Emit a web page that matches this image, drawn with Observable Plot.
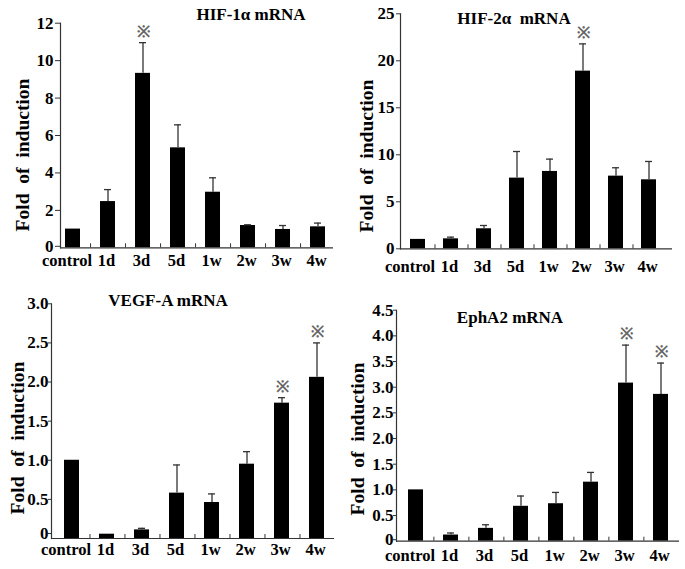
<!DOCTYPE html>
<html><head><meta charset="utf-8">
<script src="https://cdn.jsdelivr.net/npm/d3@7"></script>
<script src="https://cdn.jsdelivr.net/npm/@observablehq/plot@0.6"></script>
<style>
body{margin:0;background:#fff;}
#wrap{position:relative;width:685px;height:569px;overflow:hidden;font-family:"Liberation Serif","Times New Roman",serif;font-weight:bold;color:#000;background:#fff;}
.panel{position:absolute;}
.panel text{font-family:"Liberation Serif","Times New Roman",serif !important;font-weight:bold;}
.panel text.star{font-family:"Noto Sans CJK SC",sans-serif !important;font-weight:normal;}
.title{position:absolute;font-size:17px;white-space:pre;transform:translate(-50%,-50%);line-height:1;}
.ylab{position:absolute;font-size:19.5px;white-space:pre;transform:translate(-50%,-50%) rotate(-90deg);line-height:1;}
</style></head><body><div id="wrap"></div>
<script>
const categories = ["control","1d","3d","5d","1w","2w","3w","4w"];

const hif1Values = [1.0, 2.47, 9.32, 5.34, 2.97, 1.19, 0.98, 1.12];
const hif1SD     = [0, 0.64, 1.64, 1.23, 0.77, 0.04, 0.21, 0.20];
const hif1Sig    = ["3d"];
const hif1Ticks  = [0, 2, 4, 6, 8, 10, 12];

const hif2Values = [1.0, 1.06, 2.13, 7.52, 8.23, 18.9, 7.73, 7.34];
const hif2SD     = [0, 0.18, 0.35, 2.83, 1.31, 2.9, 0.89, 1.95];
const hif2Sig    = ["2w"];
const hif2Ticks  = [0, 5, 10, 15, 20, 25];

const vegfValues = [1.0, 0.055, 0.11, 0.58, 0.46, 0.95, 1.73, 2.06];
const vegfSD     = [0, 0, 0.02, 0.36, 0.11, 0.16, 0.07, 0.44];
const vegfSig    = ["3w","4w"];
const vegfTicks  = [0, 0.5, 1.0, 1.5, 2.0, 2.5, 3.0];

const ephValues  = [1.0, 0.12, 0.25, 0.68, 0.73, 1.15, 3.08, 2.86];
const ephSD      = [0, 0.04, 0.07, 0.20, 0.22, 0.19, 0.74, 0.61];
const ephSig     = ["3w","4w"];
const ephTicks   = [0, 0.5, 1.0, 1.5, 2.0, 2.5, 3.0, 3.5, 4.0, 4.5];

const titles = ["HIF-1\u03b1 mRNA", "HIF-2\u03b1  mRNA", "VEGF-A mRNA", "EphA2 mRNA"];
const yLabel = "Fold  of  induction";

const wrap = document.getElementById("wrap");
const FONT = "Liberation Serif";

function panel(cfg) {
  const data = categories.map((c, i) => ({cat: c, value: cfg.values[i], sd: cfg.sd[i], top: cfg.values[i] + cfg.sd[i], sig: cfg.sig.includes(c)}));
  const withErr = data.filter(d => d.sd > 0);
  const xs = d3.scaleBand().domain(categories).range([cfg.ml, cfg.width - cfg.mr])
    .paddingInner(cfg.pi).paddingOuter(cfg.po).align(cfg.align);
  const step = xs.step();
  const labelStyle = {tickSize: 0, tickPadding: cfg.xPad, label: null, fontFamily: FONT, fontWeight: "bold", fontSize: 16.5};
  const yStyle = {tickFormat: cfg.fmt, tickSize: cfg.tickSize, tickPadding: cfg.yPad, label: null, stroke: "#333", fontFamily: FONT, fontWeight: "bold", fontSize: 17};
  const svg = Plot.plot({
    width: cfg.width, height: cfg.height,
    marginLeft: cfg.ml, marginRight: cfg.mr, marginTop: cfg.mt, marginBottom: cfg.mb,
    style: {fontFamily: FONT, fontWeight: "bold", fontSize: "17px", background: "transparent", color: "#000", overflow: "visible"},
    x: {domain: categories, paddingInner: cfg.pi, paddingOuter: cfg.po, align: cfg.align, label: null},
    y: {domain: [0, cfg.ticks[cfg.ticks.length - 1]], label: null},
    marks: [
      Plot.barY(data, {x: "cat", y: "value", fill: "#000"}),
      Plot.ruleX(withErr, {x: "cat", y1: "value", y2: "top", stroke: "#333", strokeWidth: 1.3}),
      Plot.tickY(withErr, {x: "cat", y: "top", stroke: "#333", strokeWidth: 1.3, insetLeft: 4, insetRight: 4}),
      Plot.text(data.filter(d => d.sig), {x: "cat", y: "top", text: () => "\u203b", dy: -11, fontFamily: "Noto Sans CJK SC", fontSize: 16, fontWeight: "normal", fill: "#666", className: "star"}),
      Plot.ruleY([0], {stroke: "#333", strokeWidth: 1.2}),
      Plot.frame({anchor: "left", stroke: "#333", strokeWidth: 1.2}),
      Plot.axisY({...yStyle, ticks: cfg.ticks.slice(1)}),
      Plot.axisY({...yStyle, ticks: cfg.ticks.slice(0, 1), dy: cfg.zeroDy}),
      Plot.axisX({...labelStyle, ticks: categories.slice(0, 1), dx: cfg.ctrlDx}),
      Plot.axisX({...labelStyle, ticks: categories.slice(1), dx: -1.5}),
      Plot.axisX({ticks: categories.slice(0, -1), tickFormat: () => "", tickSize: 4, dy: -4, dx: step / 2, label: null, stroke: "#333"})
    ]
  });
  svg.classList.add("panel");
  svg.setAttribute("font-family", FONT);
  svg.style.left = cfg.left + "px";
  svg.style.top = cfg.top + "px";
  wrap.appendChild(svg);

  const t = document.createElement("div");
  t.className = "title"; t.textContent = cfg.title;
  t.style.left = cfg.tx + "px"; t.style.top = cfg.ty + "px";
  wrap.appendChild(t);
  const l = document.createElement("div");
  l.className = "ylab"; l.textContent = yLabel;
  l.style.left = cfg.lx + "px"; l.style.top = cfg.ly + "px";
  wrap.appendChild(l);
}

const intFmt = d => String(d);
const decFmt = d => d === 0 ? "0" : d.toFixed(1);

panel({values: hif1Values, sd: hif1SD, sig: hif1Sig, ticks: hif1Ticks, fmt: intFmt, title: titles[0],
  left: 0, top: 0, width: 342, height: 280, ml: 60, mr: 9, mt: 22.7, mb: 32.7,
  pi: 0.573, po: 0.175, align: 0.39, tickSize: 5, yPad: 2, xPad: 6, ctrlDx: -6, zeroDy: -1.5,
  tx: 251, ty: 14, lx: 23, ly: 155});
panel({values: hif2Values, sd: hif2SD, sig: hif2Sig, ticks: hif2Ticks, fmt: intFmt, title: titles[1],
  left: 342, top: 0, width: 343, height: 280, ml: 58, mr: 13, mt: 13.3, mb: 31.7,
  pi: 0.559, po: 0.28, align: 0.39, tickSize: 4, yPad: 2, xPad: 11, ctrlDx: -8, zeroDy: 0,
  tx: 514, ty: 18, lx: 367, ly: 156});
panel({values: vegfValues, sd: vegfSD, sig: vegfSig, ticks: vegfTicks, fmt: decFmt, title: titles[2],
  left: 0, top: 280, width: 342, height: 289, ml: 51, mr: 8, mt: 23.3, mb: 31,
  pi: 0.582, po: 0.23, align: 0.55, tickSize: 3, yPad: 0, xPad: 5, ctrlDx: -6, zeroDy: -5,
  tx: 168, ty: 300, lx: 18, ly: 438});
panel({values: ephValues, sd: ephSD, sig: ephSig, ticks: ephTicks, fmt: decFmt, title: titles[3],
  left: 342, top: 280, width: 343, height: 289, ml: 54, mr: 6, mt: 29.7, mb: 28.3,
  pi: 0.581, po: 0.246, align: 0.5, tickSize: 3, yPad: 0, xPad: 8, ctrlDx: -6, zeroDy: -1.5,
  tx: 510, ty: 317, lx: 358, ly: 439});
</script></body></html>
